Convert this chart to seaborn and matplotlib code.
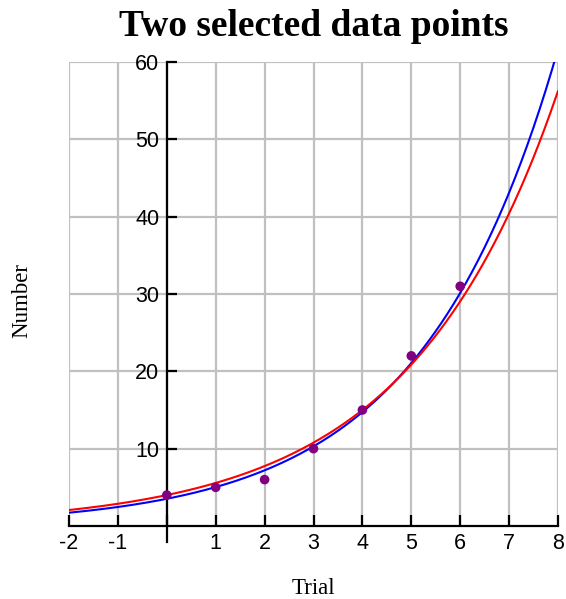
import numpy as np
import pandas as pd
import matplotlib
matplotlib.use("Agg")
import matplotlib.pyplot as plt
import seaborn as sns

# ---- data ----
trial = [0, 1, 2, 3, 4, 5, 6]
number = [4, 5, 6, 10, 15, 22, 31]
selected_idx = [0, 4]          # the two selected data points (0,4) and (4,15)
x_ticks = [-2, -1, 0, 1, 2, 3, 4, 5, 6, 7, 8]
x_tick_labels = ["-2", "-1", "", "1", "2", "3", "4", "5", "6", "7", "8"]
y_ticks = [10, 20, 30, 40, 50, 60]
y_tick_labels = ["10", "20", "30", "40", "50", "60"]
title = "Two selected data points"
x_label = "Trial"
y_label = "Number"

# ---- models ----
# blue: least-squares exponential fit on log(y)
slope, intercept = np.polyfit(trial, np.log(number), 1)
blue_a, blue_b = np.exp(intercept), np.exp(slope)
# red: exponential through the two selected points
(x0, y0), (x1, y1) = [(trial[i], number[i]) for i in selected_idx]
red_b = (y1 / y0) ** (1.0 / (x1 - x0))
red_a = y0 / red_b ** x0

xs = np.linspace(-2, 8, 400)
curves = pd.DataFrame({
    "x": np.concatenate([xs, xs]),
    "y": np.concatenate([blue_a * blue_b ** xs, red_a * red_b ** xs]),
    "model": ["fit"] * len(xs) + ["two"] * len(xs),
})
pts = pd.DataFrame({"Trial": trial, "Number": number})

sns.set_style("white")
plt.rcParams["font.family"] = ["Liberation Sans", "DejaVu Sans"]
plt.rcParams["text.color"] = "black"
plt.rcParams["axes.labelcolor"] = "black"

fig = plt.figure(figsize=(5.66, 5.99), dpi=100)
ax = fig.add_axes([69 / 566, 1 - 526 / 599, (558 - 69) / 566, (526 - 62) / 599])

sns.lineplot(data=curves, x="x", y="y", hue="model",
             palette={"fit": "#0000ff", "two": "#ff0000"},
             linewidth=1.5, legend=False, ax=ax, zorder=3)
sns.scatterplot(data=pts, x="Trial", y="Number", color="#800080",
                s=48, edgecolor="none", ax=ax, zorder=4)

ax.set_xlim(-2, 8)
ax.set_ylim(0, 60)
ax.set_xticks(x_ticks)
ax.set_xticklabels(x_tick_labels)
ax.set_yticks(y_ticks)
ax.set_yticklabels(y_tick_labels)

ax.grid(True, color="#c0c0c0", linewidth=1.6)
ax.set_axisbelow(True)
for gl in ax.get_xgridlines() + ax.get_ygridlines():
    gl.set_clip_on(False)

for s in ["top", "right"]:
    ax.spines[s].set_visible(False)
ax.spines["left"].set_position(("data", 0))
ax.spines["bottom"].set_position(("data", 0))
ax.spines["left"].set_bounds(-2.05, 60)
ax.spines["left"].set_clip_on(False)
for s in ["left", "bottom"]:
    ax.spines[s].set_color("black")
    ax.spines[s].set_linewidth(1.6)
    ax.spines[s].set_zorder(2.5)

ax.tick_params(axis="x", direction="in", length=8, width=1.6, color="black",
               pad=5, labelsize=15.5, labelcolor="black", bottom=True)
ax.tick_params(axis="y", direction="in", length=7.5, width=1.6, color="black",
               pad=5.5, labelsize=15.5, labelcolor="black", left=True)

ax.set_title(title, family=["Liberation Serif", "DejaVu Serif"],
             fontweight="bold", fontsize=27, pad=18.5, color="black")
ax.set_xlabel(x_label, family=["Liberation Serif", "DejaVu Serif"],
              fontsize=16.5, color="black")
ax.set_ylabel(y_label, family=["Liberation Serif", "DejaVu Serif"],
              fontsize=16.5, color="black")
ax.xaxis.set_label_coords((313 - 69) / 489, (526 - 588) / 464)
ax.xaxis.label.set_va("center")
ax.yaxis.set_label_coords((22 - 69) / 489, (526 - 300) / 464)
ax.yaxis.label.set_va("center")

fig.savefig("out.png", dpi=100)
